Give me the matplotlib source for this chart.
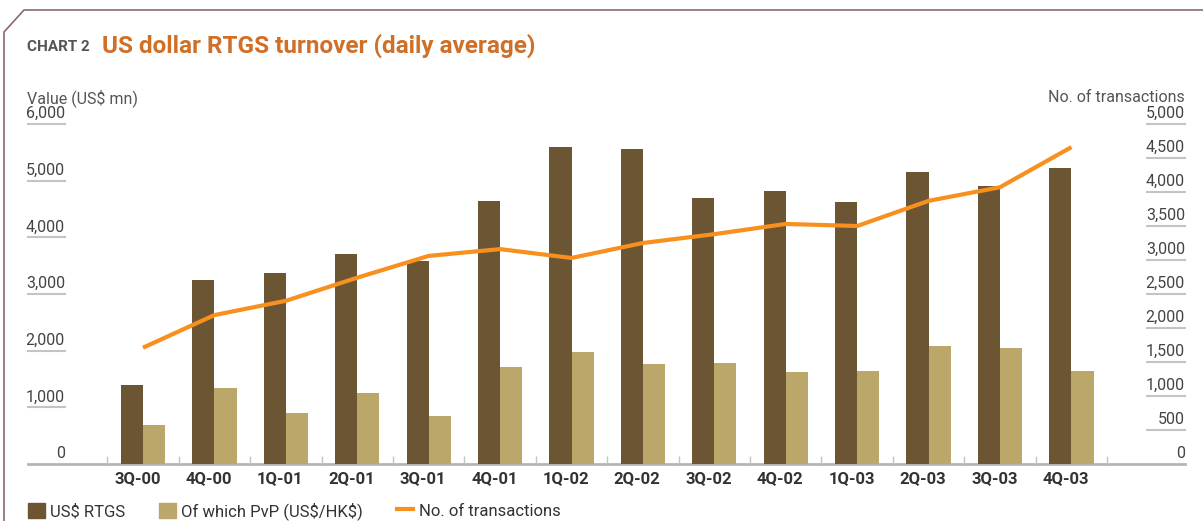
import numpy as np
import matplotlib
matplotlib.use("Agg")
import matplotlib.pyplot as plt
from matplotlib.lines import Line2D
from matplotlib.patches import Patch

# donnees
quarters = ["3Q-00", "4Q-00", "1Q-01", "2Q-01", "3Q-01", "4Q-01", "1Q-02",
            "2Q-02", "3Q-02", "4Q-02", "1Q-03", "2Q-03", "3Q-03", "4Q-03"]
rtgs = [1390, 3250, 3370, 3710, 3580, 4640, 5590, 5560, 4690, 4820, 4620, 5150, 4900, 5220]
pvp = [690, 1340, 900, 1250, 850, 1710, 1980, 1770, 1780, 1620, 1640, 2080, 2050, 1640]
transactions = [1710, 2190, 2400, 2740, 3060, 3160, 3030, 3250, 3380, 3530, 3500, 3870, 4070, 4660]
left_ticks = [0, 1000, 2000, 3000, 4000, 5000, 6000]
right_ticks = [0, 500, 1000, 1500, 2000, 2500, 3000, 3500, 4000, 4500, 5000]

dark = "#6b5533"
light = "#bba76a"
orange = "#f7901e"
grey_line = "#c4c4c4"
txt = "#444444"

plt.rcParams['font.family'] = ['Roboto', 'DejaVu Sans']

W, H = 1203, 521
fig = plt.figure(figsize=(W / 100, H / 100), dpi=100)
ax = fig.add_axes([28 / W, 1 - 464 / H, (1185 - 28) / W, 340 / H])
ax2 = ax.twinx()

x = np.arange(len(quarters))
bw = 0.31
ax.bar(x - bw / 2, rtgs, bw, color=dark, zorder=2)
ax.bar(x + bw / 2, pvp, bw, color=light, zorder=2)
ax2.plot(x, transactions, color=orange, lw=3, solid_capstyle='butt', zorder=3)

ax.set_xlim(-1.61, 14.59)
ax.set_ylim(0, 6000)
ax2.set_ylim(0, 5000)

for a in (ax, ax2):
    for s in a.spines.values():
        s.set_visible(False)
    a.set_yticks([])
ax.set_xticks(x - 0.08)
ax.set_xticklabels(quarters, fontsize=12, fontweight='bold', color="#333333")
ax.tick_params(axis='x', length=0, pad=5)
ax.set_xticks(np.arange(len(quarters) + 1) - 0.5, minor=True)
ax.tick_params(axis='x', which='minor', direction='in', length=6, width=1, color=grey_line)

# ligne de base
ax.axhline(0, color="#b5b5b5", lw=2, zorder=1, clip_on=False)

# etiquettes soulignees a gauche
ytr = ax.get_yaxis_transform()
for v in left_ticks:
    if v > 0:
        ax.plot([0, 37 / 1157], [v, v], color=grey_line, lw=1.5, transform=ytr, clip_on=False)
    ax.text(37 / 1157, v + 50, f"{v:,}", transform=ytr, ha='right', va='bottom',
            fontsize=11.5, color=txt)

# etiquettes soulignees a droite
ytr2 = ax2.get_yaxis_transform()
for v in right_ticks:
    if v > 0:
        ax2.plot([1 - 38 / 1157, 1], [v, v], color=grey_line, lw=1.5, transform=ytr2, clip_on=False)
    ax2.text(1, v + 42, f"{v:,}", transform=ytr2, ha='right', va='bottom',
             fontsize=11.5, color=txt)

# titres
fig.text(27 / W, 1 - 47 / H, "CHART 2", fontsize=11, fontweight='bold', color="#555555", va='center')
fig.text(102 / W, 1 - 46 / H, "US dollar RTGS turnover (daily average)", fontsize=17.5,
         fontweight='bold', color="#cf6f28", va='center')
fig.text(27 / W, 1 - 98 / H, "Value (US\\$ mn)", fontsize=11.5, color="#555555", va='center')
fig.text(1185 / W, 1 - 98 / H, "No. of transactions", fontsize=11.5, color="#555555", va='center', ha='right')

# cadre
fx = [4 / W, 4 / W, 24 / W, 1]
fy = [0, 1 - 32 / H, 1 - 10 / H, 1 - 10 / H]
fig.add_artist(Line2D(fx, fy, color="#8a6a6e", lw=1.2))

# legende
handles = [Patch(color=dark), Patch(color=light), Line2D([], [], color=orange, lw=3)]
labels = ["US\\$ RTGS", "Of which PvP (US\\$/HK\\$)", "No. of transactions"]
fig.legend(handles, labels, loc='center left', bbox_to_anchor=(28 / W, 1 - 511 / H), ncol=3,
           frameon=False, fontsize=12, labelcolor="#333333", handlelength=1.0, handleheight=1.0,
           handletextpad=0.35, columnspacing=2.0, borderaxespad=0, borderpad=0)

fig.savefig("out.png", dpi=100)
